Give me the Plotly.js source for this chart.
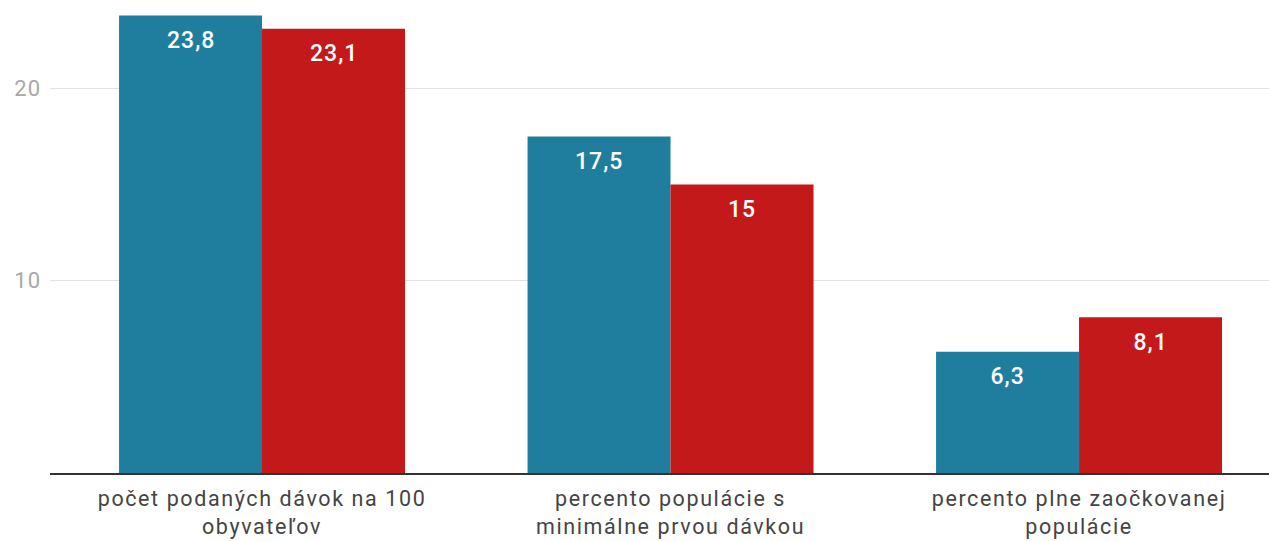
<!DOCTYPE html>
<html><head><meta charset="utf-8">
<script src="https://cdn.plot.ly/plotly-3.0.1.min.js"></script>
<style>
html,body{margin:0;padding:0;background:#fff}
#chart{width:1269px;height:541px}
#chart .xtick text{letter-spacing:1.6px}
#chart .ytick text{letter-spacing:1px}
#chart .annotation-text{letter-spacing:1px}
</style>
</head><body><div id="chart"></div>
<script>
const categories = ["počet podaných dávok na 100<br>obyvateľov", "percento populácie s<br>minimálne prvou dávkou", "percento plne zaočkovanej<br>populácie"];
const seriesA = [23.8, 17.5, 6.3];
const seriesB = [23.1, 15, 8.1];
const yTicks = [10, 20];

const colorA = "#1f7e9e";
const colorB = "#c4191b";
const idx = categories.map((c, i) => i);

const traces = [
  {type: "bar", x: idx, y: seriesA, marker: {color: colorA}, hoverinfo: "none"},
  {type: "bar", x: idx, y: seriesB, marker: {color: colorB}, hoverinfo: "none"}
];

const half = 0.175;
const fmt = v => String(v).replace(".", ",");
const annotations = [];
[seriesA, seriesB].forEach((s, k) => {
  s.forEach((v, i) => {
    annotations.push({x: i + (k === 0 ? -half : half), y: v, xref: "x", yref: "y",
      text: fmt(v), showarrow: false, yanchor: "middle", yshift: -25,
      font: {family: "Roboto", size: 23, color: "#ffffff", weight: 500}});
  });
});

const layout = {
  width: 1269, height: 541,
  margin: {l: 50, r: 0, t: 0, b: 68},
  paper_bgcolor: "#fff", plot_bgcolor: "#fff",
  showlegend: false,
  barmode: "group", bargap: 0.3, bargroupgap: 0,
  font: {family: "Roboto"},
  xaxis: {type: "linear", range: [-0.519, 2.465], tickvals: idx, ticktext: categories,
    showgrid: false, zeroline: false, showline: true, linecolor: "#333", linewidth: 2,
    ticks: "", ticklabelstandoff: 5,
    tickfont: {family: "Roboto", size: 21.5, color: "#444"}},
  yaxis: {range: [0, 24.6], tickvals: yTicks, ticktext: yTicks.map(String),
    showgrid: true, gridcolor: "#e3e3e3", gridwidth: 1, zeroline: false, showline: false,
    ticks: "", ticklabelstandoff: 8,
    tickfont: {family: "Roboto", size: 22, color: "#a8a8a8"}},
  annotations: annotations
};

Plotly.newPlot("chart", traces, layout, {displayModeBar: false, staticPlot: true});
</script>
</body></html>
